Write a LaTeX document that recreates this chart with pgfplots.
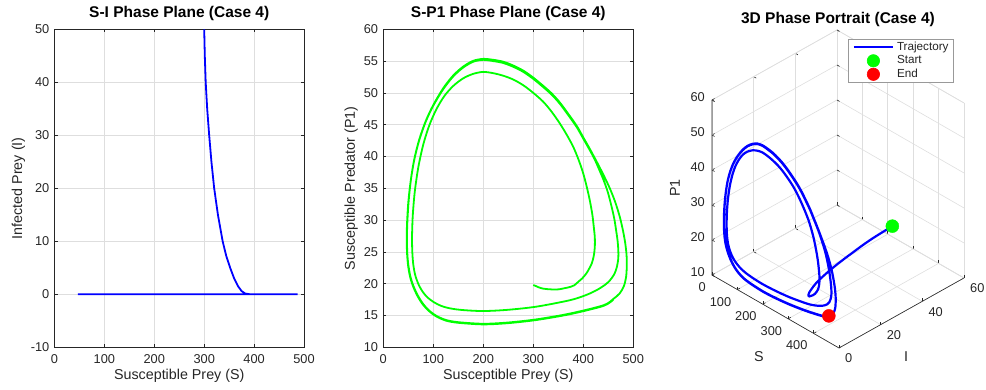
\documentclass[border=0pt]{standalone}
\usepackage{pgfplots}
\pgfplotsset{compat=1.18}
\usepackage{pgfplotstable}
\usepackage{fontspec}
\setmainfont{Liberation Sans}
\definecolor{axc}{RGB}{38,38,38}
\definecolor{gridc}{RGB}{222,222,222}
\definecolor{mgreen}{rgb}{0,1,0}
\definecolor{mblue}{rgb}{0,0,1}
\definecolor{mred}{rgb}{1,0,0}

\pgfplotstableread{
S I P1
300 50 19.8
301.2 45 19.75
303 40 19.7
306 35 19.6
310 30 19.45
314.5 25 19.33
320 20 19.22
327.5 15 19.15
337 10 19.1
344 7.3 19.08
352 5 19.12
360 3 19.25
368 1.5 19.38
375 0.6 19.52
382 0.15 19.75
390 0.03 20.3
398 0 20.85
406 0 21.6
412 0 22.4
417 0 23.2
421 0 24.4
423 0 25.8
423 0 27.3
421 0 28.9
418 0 30.9
413 0 33.1
407 0 35.2
400 0 37.3
391 0 39.4
380 0 41.5
367 0 43.4
353 0 45.2
337 0 47.0
320 0 48.6
300 0 50.0
280 0 51.2
260 0 52.1
240 0 52.7
220 0 53.1
200 0 53.3
180 0 53.0
160 0 52.3
140 0 51.1
122 0 49.5
106 0 47.4
92 0 44.9
80 0 41.9
70 0 38.3
63 0 34.5
59 0 30.8
57.5 0 27.5
58 0 25.0
60 0 23.0
64 0 21.3
71 0 19.8
79 0 18.7
89 0 17.8
101 0 17.1
116 0 16.5
135 0 16.1
160 0 15.85
200 0 15.7
250 0 15.9
307 0 16.4
373 0 17.4
405 0 18.2
427 0 19.0
443 0 19.8
453 0 20.5
462 0 21.5
467 0 22.6
470 0 24.0
470 0 25.3
468.5 0 26.8
466 0 28.2
462 0 30.2
456 0 32.3
449 0 34.4
441 0 36.2
432 0 37.9
423 0 39.5
413 0 41.0
400 0 42.8
387 0 44.6
370 0 46.5
353 0 48.3
337 0 49.7
320 0 50.9
300 0 52.2
280 0 53.3
260 0 54.1
240 0 54.7
220 0 55.0
200 0 55.2
180 0 54.9
160 0 54.0
140 0 52.6
120 0 50.6
100 0 48.0
85 0 45.5
72 0 42.6
62 0 39.5
55 0 36.2
50.5 0 32.8
48 0 29.5
47.3 0 27.0
48 0 24.8
50 0 23.0
54 0 21.2
60 0 19.7
68 0 18.3
78 0 17.0
90 0 15.9
105 0 15.0
125 0 14.3
150 0 13.95
200 0 13.7
250 0 13.9
307 0 14.4
373 0 15.3
440 0 16.6
460 0 17.6
473 0 18.5
481 0 19.6
485.5 0 21.0
487 0 22.8
486.5 0 24.5
484 0 26.3
479.5 0 28.3
473 0 30.5
464 0 32.8
453 0 35.0
441 0 37.0
428 0 39.0
413 0 41.2
400 0 43.0
387 0 44.8
370 0 46.7
353 0 48.5
337 0 49.9
320 0 51.1
300 0 52.4
280 0 53.5
260 0 54.3
240 0 54.9
220 0 55.2
200 0 55.35
180 0 55.05
160 0 54.15
140 0 52.75
120 0 50.75
100 0 48.1
85 0 45.6
72 0 42.7
62 0 39.6
55 0 36.3
50 0 32.8
47.5 0 29.5
46.8 0 27.0
47.5 0 24.8
49.5 0 22.9
53.5 0 21.1
59.5 0 19.6
67.5 0 18.2
77.5 0 16.9
90 0 15.8
105 0 14.9
125 0 14.2
150 0 13.85
200 0 13.6
250 0 13.8
307 0 14.3
373 0 15.2
440 0 16.5
460 0 17.5
}\traj

\pgfplotsset{
  mat/.style={
    scale only axis,
    axis line style={axc, line width=0.6pt},
    tick style={axc, line width=0.6pt},
    major tick length=3pt,
    tick align=inside,
    grid=major,
    grid style={gridc, line width=0.6pt},
    /pgf/number format/assume math mode=true,
    ticklabel style={font=\fontsize{12.8}{15}\selectfont, text=axc},
    xticklabel style={anchor=base, yshift=-16.7pt, inner sep=0pt},
    yticklabel style={anchor=east, xshift=-5pt, inner sep=0pt},
    label style={font=\fontsize{14.3}{17}\selectfont, text=axc},
    xlabel style={at={(axis description cs:0.5,0)}, anchor=base, yshift=-32.7pt, inner sep=0pt},
    title style={font=\bfseries\fontsize{15.5}{18}\selectfont, at={(axis description cs:0.5,1)}, anchor=base, yshift=6pt, inner sep=0pt},
  },
  linelegend/.style={legend image code/.code={\draw[##1] (0pt,0pt) -- (39pt,0pt);}},
  marklegend/.style={legend image code/.code={\draw[mark repeat=2,mark phase=2,##1] plot coordinates {(0pt,0pt) (19.5pt,0pt) (39pt,0pt)};}},
}

\begin{document}
\begin{tikzpicture}
\path[use as bounding box] (0,0) rectangle (986pt,390pt);

% Panel 1
\begin{axis}[mat,
  at={(54.5pt,42.7pt)}, anchor=south west,
  width=249.5pt, height=318pt,
  xmin=0, xmax=500, ymin=-10, ymax=50,
  xtick={0,100,...,500}, ytick={-10,0,...,50},
  title={S-I Phase Plane (Case 4)},
  xlabel={Susceptible Prey (S)},
  ylabel={Infected Prey (I)},
  ylabel style={at={(axis description cs:-0.1443,0.5)}, anchor=center},
]
\addplot[mblue, line width=1.8pt] table[x=S, y=I] {\traj};
\end{axis}

% Panel 2
\begin{axis}[mat,
  at={(383.3pt,42.7pt)}, anchor=south west,
  width=250pt, height=318pt,
  xmin=0, xmax=500, ymin=10, ymax=60,
  xtick={0,100,...,500}, ytick={10,15,...,60},
  title={S-P1 Phase Plane (Case 4)},
  xlabel={Susceptible Prey (S)},
  ylabel={Susceptible Predator (P1)},
  ylabel style={at={(axis description cs:-0.1285,0.5)}, anchor=center},
]
\addplot[mgreen, line width=1.8pt, smooth] table[x=S, y=P1] {\traj};
\end{axis}

% Panel 3
\begin{axis}[
  at={(712pt,115pt)}, anchor=origin,
  x={(0.254pt,-0.146pt)}, y={(2.083pt,1.167pt)}, z={(0pt,3.5pt)},
  xmin=0, xmax=500, ymin=0, ymax=60, zmin=10, zmax=60,
  xtick={0,100,200,300,400,500}, xticklabels={0,100,200,300,400,{}},
  ytick={0,20,40,60}, ztick={10,20,...,60},
  grid=major, grid style={gridc, line width=0.6pt},
  axis line style={gridc, line width=0.6pt},
  tick style={axc, line width=0.6pt}, major tick length=3pt,
  tick pos=left,
  /pgf/number format/assume math mode=true,
  ticklabel style={font=\fontsize{12.8}{15}\selectfont, text=axc, inner sep=0pt},
  xticklabel style={anchor=east, xshift=-6pt, yshift=-12pt},
  yticklabel style={anchor=west, xshift=6pt, yshift=-10.5pt},
  zticklabel style={anchor=east, xshift=-7pt, yshift=3pt},
  clip=false,
]
\addplot3[mblue, line width=2.2pt, smooth] table[x=S, y=I, z=P1] {\traj};
\addplot3[only marks, mark=*, mark size=6.5pt, mgreen] coordinates {(300,50,19.8)};
\addplot3[only marks, mark=*, mark size=6.5pt, mred] coordinates {(460,0,17.5)};
\draw[axc, line width=0.6pt] (axis cs:0,0,60) -- (axis cs:0,0,10) -- (axis cs:500,0,10) -- (axis cs:500,60,10);
\end{axis}

\node[anchor=base, font=\bfseries\fontsize{15.5}{18}\selectfont] at (838pt,366.7pt) {3D Phase Portrait (Case 4)};
\node[font=\fontsize{14.3}{17}\selectfont, text=axc] at (759pt,33pt) {S};
\node[font=\fontsize{14.3}{17}\selectfont, text=axc] at (906pt,33pt) {I};
\node[font=\fontsize{14.3}{17}\selectfont, text=axc, rotate=90] at (675pt,202pt) {P1};

% Legend for panel 3
\begin{axis}[
  at={(848pt,307pt)}, anchor=south west, scale only axis,
  width=104pt, height=44pt, hide axis,
  xmin=0, xmax=1, ymin=0, ymax=1,
  legend cell align=left,
  legend style={at={(0,1)}, anchor=north west, draw=gray!80, fill=white,
    line width=0.6pt, inner xsep=4.5pt, inner ysep=1.5pt, column sep=3pt, row sep=0.5pt,
    font=\fontsize{11.7}{13}\selectfont,
    nodes={inner xsep=0pt, inner ysep=1pt, text height=8.5pt, text depth=2.5pt, text=axc}},
]
\addlegendimage{mblue, line width=2.2pt, linelegend}
\addlegendentry{Trajectory}
\addlegendimage{only marks, mark=*, mark size=6.2pt, mgreen, marklegend}
\addlegendentry{Start}
\addlegendimage{only marks, mark=*, mark size=6.2pt, mred, marklegend}
\addlegendentry{End}
\end{axis}
\end{tikzpicture}
\end{document}
